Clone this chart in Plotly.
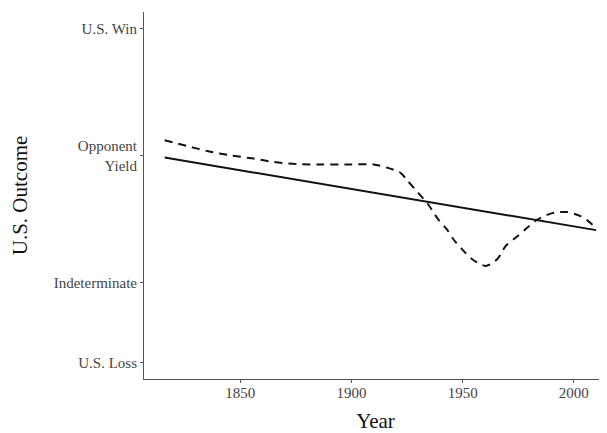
import plotly.graph_objects as go

# Outcome levels (y positions on the numeric scale)
outcome_labels = ["U.S. Loss", "Indeterminate", "Opponent<br>Yield", "U.S. Win"]
outcome_values = [-0.315, 0.0, 0.5, 1.0]

# Linear trend
trend_years = [1816, 2010]
trend_values = [0.492, 0.206]

# Smoothed (loess-like) curve
smooth_years = [1816, 1826, 1835.6, 1845.5, 1855.9, 1864.9, 1875.7, 1886, 1899.5,
                1909.9, 1916.2, 1922, 1925.6, 1930.1, 1934.6, 1939.1, 1943, 1945.9,
                1949.8, 1954.3, 1960.3, 1965.5, 1969.3, 1973.8, 1979, 1983.5,
                1990.3, 1997, 2003, 2007.5, 2010]
smooth_values = [0.560, 0.538, 0.517, 0.501, 0.488, 0.475, 0.466, 0.465, 0.465,
                 0.465, 0.452, 0.432, 0.397, 0.352, 0.306, 0.247, 0.208, 0.169,
                 0.130, 0.091, 0.065, 0.091, 0.143, 0.176, 0.215, 0.247,
                 0.273, 0.277, 0.261, 0.234, 0.208]

x_ticks = [1850, 1900, 1950, 2000]

font_family = "Liberation Serif, Times New Roman, serif"

fig = go.Figure()
fig.add_trace(go.Scatter(
    x=trend_years, y=trend_values, mode="lines",
    line=dict(color="#111111", width=2), showlegend=False, hoverinfo="skip"))
fig.add_trace(go.Scatter(
    x=smooth_years, y=smooth_values, mode="lines",
    line=dict(color="#111111", width=2, dash="8px,6px", shape="spline", smoothing=0.8),
    showlegend=False, hoverinfo="skip"))

# page body has an 8px margin, so the figure is sized to fit inside 607x433
fig.update_layout(
    width=599, height=425,
    margin=dict(l=136, r=0, t=4, b=51),
    paper_bgcolor="white", plot_bgcolor="white",
    font=dict(family=font_family, color="#333333"),
    xaxis=dict(
        range=[1806.7, 2014.9],
        tickvals=x_ticks, ticktext=[str(v) for v in x_ticks],
        showgrid=False, zeroline=False,
        showline=True, linecolor="#555555", linewidth=1,
        ticks="outside", ticklen=3, tickcolor="#555555", tickwidth=1,
        ticklabelstandoff=-3,
        tickfont=dict(size=15, color="#444444", family=font_family),
        title=dict(text="Year", font=dict(size=21, color="#111111", family=font_family), standoff=17),
    ),
    yaxis=dict(
        range=[-0.381, 1.066],
        tickvals=outcome_values, ticktext=outcome_labels,
        showgrid=False, zeroline=False,
        showline=True, linecolor="#555555", linewidth=1,
        ticks="outside", ticklen=3, tickcolor="#555555", tickwidth=1,
        tickfont=dict(size=15, color="#444444", family=font_family),
        title=dict(text="U.S. Outcome", font=dict(size=21, color="#111111", family=font_family), standoff=20),
    ),
)

fig.write_html("out.html")
